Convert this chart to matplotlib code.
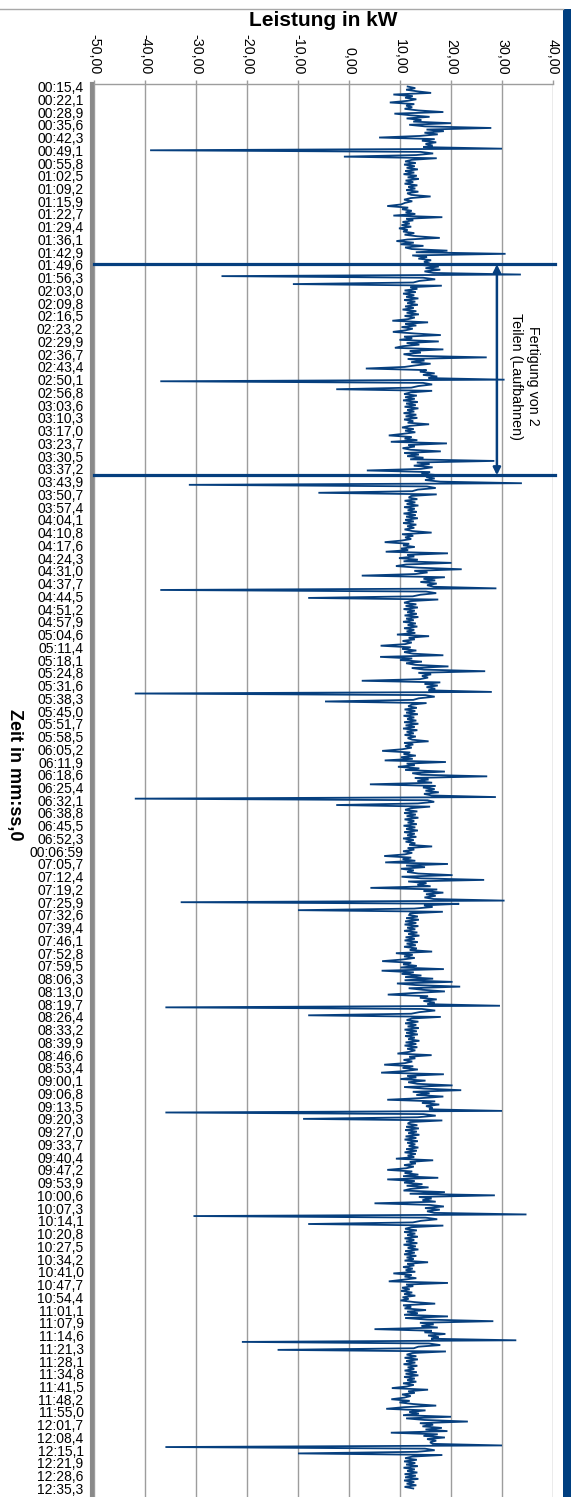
"""
Leistungsverlauf einer Fertigung: Leistung in kW über der Zeit (mm:ss,0).

The time axis runs downwards, the power axis sits on top, the way the
original spreadsheet chart was turned on its side.
"""

import matplotlib

matplotlib.use("Agg")
import matplotlib.pyplot as plt
import numpy as np
from matplotlib.lines import Line2D
from matplotlib.patches import Rectangle

plt.rcParams["font.family"] = ["Liberation Sans", "DejaVu Sans"]

# ---------------------------------------------------------------- data
time_labels = [
    "00:15,4", "00:22,1", "00:28,9", "00:35,6", "00:42,3", "00:49,1", "00:55,8",
    "01:02,5", "01:09,2", "01:15,9", "01:22,7", "01:29,4", "01:36,1", "01:42,9",
    "01:49,6", "01:56,3", "02:03,0", "02:09,8", "02:16,5", "02:23,2", "02:29,9",
    "02:36,7", "02:43,4", "02:50,1", "02:56,8", "03:03,6", "03:10,3", "03:17,0",
    "03:23,7", "03:30,5", "03:37,2", "03:43,9", "03:50,7", "03:57,4", "04:04,1",
    "04:10,8", "04:17,6", "04:24,3", "04:31,0", "04:37,7", "04:44,5", "04:51,2",
    "04:57,9", "05:04,6", "05:11,4", "05:18,1", "05:24,8", "05:31,6", "05:38,3",
    "05:45,0", "05:51,7", "05:58,5", "06:05,2", "06:11,9", "06:18,6", "06:25,4",
    "06:32,1", "06:38,8", "06:45,5", "06:52,3", "00:06:59", "07:05,7", "07:12,4",
    "07:19,2", "07:25,9", "07:32,6", "07:39,4", "07:46,1", "07:52,8", "07:59,5",
    "08:06,3", "08:13,0", "08:19,7", "08:26,4", "08:33,2", "08:39,9", "08:46,6",
    "08:53,4", "09:00,1", "09:06,8", "09:13,5", "09:20,3", "09:27,0", "09:33,7",
    "09:40,4", "09:47,2", "09:53,9", "10:00,6", "10:07,3", "10:14,1", "10:20,8",
    "10:27,5", "10:34,2", "10:41,0", "10:47,7", "10:54,4", "11:01,1", "11:07,9",
    "11:14,6", "11:21,3", "11:28,1", "11:34,8", "11:41,5", "11:48,2", "11:55,0",
    "12:01,7", "12:08,4", "12:15,1", "12:21,9", "12:28,6", "12:35,3",
]
power_ticks = [-50, -40, -30, -20, -10, 0, 10, 20, 30, 40]

# power readings in kW, one list per machining cycle
cycle_00 = [11.5, 13.0, 11.2, 13.4, 16.1, 8.7, 12.5, 11.0, 13.2, 11.4, 8.0, 12.8,
            11.2, 12.4, 10.9, 13.6, 18.5, 8.9, 12.0, 15.8, 11.3, 14.2, 12.6, 20.0,
            11.8, 14.9, 27.9, 15.2, 18.6, 14.8, 17.4, 13.9, 5.9, 16.8, 14.3, 17.1,
            15.0, 16.4, 14.6, 30.0, -39.0, 14.0, 16.5, 13.2, -1.0, 17.2, 12.3]
cycle_01 = [11.0, 13.1, 10.8, 12.9, 11.3, 13.5, 11.0, 12.8, 10.7, 13.3, 11.5, 13.7,
            11.1, 12.6, 10.9, 13.4, 11.6, 13.0, 11.2, 13.6, 11.4, 12.2, 16.0, 12.1,
            10.8, 12.4, 11.0, 10.2, 7.5, 11.6, 10.4, 12.3, 11.1, 13.0, 8.7, 18.3,
            11.2, 12.6, 10.5, 11.9, 10.3, 12.2, 9.8, 11.5, 10.6, 12.8, 10.9, 13.4,
            17.8, 11.5, 9.3, 12.7, 10.1, 14.6, 11.0, 12.3, 19.3, 13.1, 30.7, 12.4,
            15.3, 13.6, 16.1, 14.7, 15.8, 14.2, 17.6, 15.0, 17.9, 14.8, 16.5, 33.7,
            -25.0, 14.5, 16.9, 13.8, 12.6, -11.0, 18.2, 12.0]
cycle_02 = [13.4, 10.9, 13.1, 10.6, 12.8, 11.2, 13.6, 10.8, 13.0, 11.4, 13.5, 11.0,
            12.7, 10.5, 13.2, 11.3, 13.7, 10.9, 12.9, 11.6, 8.5, 15.5, 11.0, 13.2,
            10.3, 12.5, 11.1, 8.6, 12.9, 18.0, 10.8, 12.4, 9.9, 17.6, 11.3, 13.8,
            10.5, 9.0, 18.5, 11.9, 14.1, 10.7, 12.6, 27.0, 11.5, 14.8, 12.2, 16.0,
            13.1, 10.9, 3.3, 15.2, 13.9, 16.8, 14.5, 17.3, 15.6, 30.5, -37.0, 14.5,
            16.3, 13.6, 12.2, -2.5, 16.3, 12.1]
cycle_03 = [10.8, 13.3, 11.0, 12.9, 10.6, 13.5, 11.2, 13.1, 10.9, 13.6, 11.4, 12.8,
            10.7, 13.2, 11.1, 13.4, 10.8, 12.6, 11.5, 15.7, 11.9, 10.4, 12.7, 11.0,
            13.0, 10.6, 7.8, 12.3, 10.9, 13.4, 8.2, 19.2, 11.6, 12.9, 10.5, 12.1,
            18.0, 10.8, 13.7, 11.4, 14.6, 12.0, 28.5, 13.3, 15.8, 12.7, 16.4, 14.1,
            3.5, 15.9, 14.2, 17.6, 15.1, 16.8, 14.9, 17.9, 33.9, -31.4, 15.3, 17.0,
            13.5, 12.4, -6.0, 17.2, 12.2]
cycle_04 = [11.7, 13.4, 10.9, 13.0, 11.3, 13.6, 10.8, 12.9, 11.5, 13.3, 10.7, 13.1,
            11.2, 13.5, 11.0, 12.7, 10.6, 13.2, 11.4, 12.8, 10.9, 12.4, 16.2, 10.4,
            12.6, 11.0, 12.2, 10.3, 7.0, 11.8, 10.6, 12.9, 10.2, 11.6, 7.2, 19.4,
            11.4, 12.8, 9.8, 13.5, 10.7, 20.1, 11.2, 9.2, 13.6, 22.1, 12.8, 15.4,
            13.0, 2.5, 18.8, 14.6, 16.9, 14.0, 17.2, 15.3, 16.6, 28.9, -37.0, 15.1,
            17.1, 14.0, 12.5, -8.0, 17.5, 12.0]
cycle_05 = [10.8, 13.2, 11.1, 13.5, 10.7, 12.9, 11.4, 13.3, 10.9, 13.6, 11.2, 12.7,
            10.6, 13.1, 11.5, 13.4, 10.8, 12.8, 11.3, 13.0, 9.4, 15.7, 11.7, 12.9,
            10.5, 12.3, 11.0, 6.2, 12.1, 10.4, 13.2, 10.8, 12.6, 18.5, 6.1, 12.4,
            10.0, 14.3, 11.2, 13.0, 19.5, 12.3, 14.7, 26.7, 13.6, 16.1, 14.3, 15.5,
            13.9, 2.5, 17.9, 14.8, 17.4, 15.2, 16.9, 15.6, 28.0, -42.0, 15.0, 16.8,
            13.7, 12.6, -4.7, 15.2, 12.3]
cycle_06 = [11.6, 13.3, 10.9, 13.0, 11.2, 13.5, 10.7, 12.8, 11.4, 13.2, 10.8, 13.6,
            11.1, 12.9, 10.6, 13.4, 11.3, 12.7, 10.9, 13.1, 11.5, 12.4, 15.6, 10.8,
            12.6, 11.0, 12.3, 10.4, 6.5, 12.0, 10.7, 13.1, 10.2, 12.5, 7.0, 19.0,
            11.3, 12.9, 9.6, 13.8, 11.0, 18.8, 12.4, 14.2, 27.1, 12.9, 15.6, 13.4,
            16.3, 4.1, 17.0, 14.5, 16.8, 15.0, 17.6, 14.7, 16.2, 28.8, -42.0, 15.4,
            16.7, 13.5, -2.5, 15.9, 12.1]
cycle_07 = [11.0, 13.4, 10.8, 13.1, 11.3, 13.6, 10.9, 12.8, 11.5, 13.3, 10.7, 13.0,
            11.2, 13.5, 10.8, 12.9, 11.4, 13.2, 10.6, 12.7, 11.1, 13.0, 11.8, 16.3,
            11.5, 12.8, 10.6, 12.4, 10.9, 6.9, 12.2, 10.5, 13.0, 7.1, 19.4, 11.2,
            14.9, 10.2, 12.7, 11.4, 13.6, 20.3, 10.3, 14.1, 26.5, 11.6, 15.2, 13.4,
            16.0, 4.2, 17.3, 14.6, 18.5, 15.1, 17.0, 14.8, 16.6, 30.5, -33.0, 21.6,
            14.7, 16.4, 12.8, -10.0, 18.4, 12.0]
cycle_08 = [11.8, 13.5, 11.2, 13.7, 11.0, 13.2, 10.9, 13.6, 11.4, 13.0, 10.8, 13.4,
            11.6, 13.8, 11.1, 12.9, 10.9, 13.5, 11.3, 13.1, 10.8, 13.3, 11.9, 16.3,
            9.2, 12.5, 10.8, 12.9, 10.4, 6.5, 12.2, 10.6, 13.3, 10.1, 18.6, 6.4,
            12.7, 10.3, 14.2, 11.0, 16.5, 10.9, 20.3, 9.4, 13.1, 21.8, 11.7, 14.5,
            18.8, 12.6, 7.6, 15.5, 13.9, 17.2, 14.6, 16.8, 15.4, 29.6, -36.0, 14.3,
            16.9, 13.8, 12.2, -8.0, 18.0, 12.3]
cycle_09 = [11.3, 13.6, 11.0, 13.2, 11.5, 13.7, 10.9, 13.3, 11.2, 13.5, 11.0, 12.9,
            11.6, 13.8, 11.1, 13.2, 10.9, 13.4, 11.4, 13.0, 11.7, 9.5, 16.2, 11.8,
            13.0, 10.7, 12.4, 11.0, 6.9, 12.6, 10.5, 13.5, 10.9, 6.3, 18.6, 11.4,
            13.2, 10.1, 15.0, 11.6, 13.4, 20.3, 10.8, 14.7, 22.0, 12.5, 15.8, 13.2,
            18.5, 14.0, 7.5, 16.9, 14.3, 17.7, 15.1, 16.4, 15.7, 30.0, -36.0, 14.6,
            17.0, 13.4, -9.0, 18.3, 12.0]
cycle_10 = [11.5, 13.4, 11.2, 13.7, 11.0, 13.3, 11.6, 13.8, 11.1, 13.2, 10.9, 13.5,
            11.4, 13.0, 11.7, 13.6, 11.2, 13.3, 10.9, 13.1, 11.5, 12.8, 9.2, 16.5,
            11.9, 13.1, 10.8, 12.7, 11.2, 7.5, 12.4, 10.9, 13.6, 10.6, 17.5, 7.5,
            12.9, 10.8, 14.4, 11.3, 15.6, 12.0, 10.7, 18.8, 11.9, 28.6, 13.7, 16.2,
            14.4, 17.0, 5.0, 15.8, 18.6, 14.9, 17.8, 15.3, 16.7, 34.8, -30.5, 15.0,
            17.3, 14.1, 12.5, -8.0, 18.5, 12.2]
cycle_11 = [11.0, 13.3, 10.8, 13.0, 11.4, 13.5, 10.9, 12.8, 11.2, 13.4, 10.7, 13.1,
            11.5, 13.6, 11.0, 12.9, 10.8, 13.2, 11.3, 12.7, 10.9, 15.5, 11.4, 12.8,
            10.6, 12.5, 11.1, 13.0, 8.7, 12.3, 10.9, 13.2, 10.5, 7.8, 19.4, 11.2,
            12.6, 10.4, 11.9, 10.2, 12.4, 10.8, 13.0, 10.5, 11.7, 10.1, 12.8, 16.9,
            10.6, 12.2, 10.9, 15.1, 11.4, 13.5, 10.8, 19.4, 11.0, 15.3, 28.3, 13.9,
            16.6, 14.2, 17.4, 5.0, 16.2, 14.8, 18.9, 15.5, 17.6, 16.1, 32.8, -21.0,
            15.7, 17.9, 13.6, 12.7, -14.0, 19.0, 12.4, 11.3]
cycle_12 = [13.2, 10.9, 13.5, 11.2, 13.0, 10.7, 13.4, 11.5, 12.8, 10.9, 13.3, 11.1,
            13.6, 10.8, 12.9, 11.4, 13.2, 10.6, 12.7, 11.3, 8.4, 15.5, 11.6, 12.9,
            10.4, 12.1, 10.8, 8.3, 11.9, 9.9, 12.6, 17.1, 10.7, 7.3, 15.0, 11.8,
            13.7, 10.6, 20.0, 11.2, 14.8, 23.3, 13.9, 16.5, 14.4, 18.2, 15.0, 19.3,
            8.2, 17.4, 14.6, 18.8, 15.3, 17.1, 15.9, 16.4, 30.0, -36.0, 14.9, 16.8,
            13.3, -10.0, 18.3, 12.4, 11.0]
cycle_13 = [13.3, 10.8, 13.0, 11.2, 13.5, 10.7, 12.9, 11.4, 13.4, 10.9, 13.1, 11.0,
            13.6, 10.8, 12.8, 11.3, 13.2, 10.9, 12.6]

# marked machining window (label units) and its caption
window_marks = [13.95, 30.5]
window_text = "Fertigung von 2\nTeilen (Laufbahnen)"

LINE_BLUE = "#063f7e"
GRID_GRAY = "#9d9d9d"

kw = np.concatenate([cycle_00, cycle_01, cycle_02, cycle_03, cycle_04, cycle_05,
                     cycle_06, cycle_07, cycle_08, cycle_09, cycle_10, cycle_11,
                     cycle_12, cycle_13])
# category positions: the 111 labels sit on every 8th reading
pos = np.linspace(0, len(time_labels) - 1, len(kw))

# ---------------------------------------------------------------- figure
W, H = 571, 1497
fig = plt.figure(figsize=(W / 100, H / 100), dpi=100)
ax = fig.add_axes([94 / W, 0.0, (553 - 94) / W, 1 - 84 / H])

ax.plot(kw, pos, color=LINE_BLUE, lw=1.3, solid_joinstyle="miter", zorder=3)

ax.set_xlim(-50, 40)
ax.set_ylim(110.67, -0.2)

ax.set_xticks(power_ticks)
ax.set_xticklabels([f"{v:.2f}".replace(".", ",") for v in power_ticks],
                   rotation=-90, fontsize=10.3)
ax.xaxis.tick_top()
ax.tick_params(axis="x", direction="out", length=3, width=1, color=GRID_GRAY, pad=4)
ax.grid(axis="x", color=GRID_GRAY, lw=1.0)
ax.set_axisbelow(True)

ax.set_yticks(np.arange(len(time_labels)))
ax.set_yticklabels(time_labels, fontsize=10.4)
ax.tick_params(axis="y", length=0, pad=6)

for side in ("right", "bottom"):
    ax.spines[side].set_visible(False)
ax.spines["top"].set_color(GRID_GRAY)
ax.spines["top"].set_linewidth(1.0)
ax.spines["left"].set_color("#8a8a8a")
ax.spines["left"].set_linewidth(3.0)
ax.spines["left"].set_position(("outward", 1.5))

# marked window: two heavy lines, a double arrow and the caption
for m in window_marks:
    ax.plot([-50, 40.3], [m, m], color=LINE_BLUE, lw=2.3, clip_on=False, zorder=4)
ax.annotate("", xy=(29, window_marks[0]), xytext=(29, window_marks[1]),
            arrowprops=dict(arrowstyle="<|-|>", color=LINE_BLUE, lw=1.8,
                            mutation_scale=11, shrinkA=0, shrinkB=0), zorder=5)
ax.text(34.4, np.mean(window_marks) + 0.5, window_text, rotation=-90,
        ha="center", va="center", multialignment="center", fontsize=10.3)

fig.text(323.5 / W, 1 - 20 / H, "Leistung in kW", ha="center", va="center",
         fontsize=15, fontweight="bold")
fig.text(14 / W, 1 - 775 / H, "Zeit in mm:ss,0", ha="center", va="center",
         rotation=-90, fontsize=13, fontweight="bold")

# frame remnants: thin top border and the blue strip on the right
fig.add_artist(Line2D([0, 563 / W], [1 - 9 / H, 1 - 9 / H], color="#a8a8a8", lw=1.0))
fig.add_artist(Rectangle((563 / W, 0), 8 / W, 1 - 9 / H, color="#003f80", lw=0))

fig.savefig("out.png", dpi=100)
